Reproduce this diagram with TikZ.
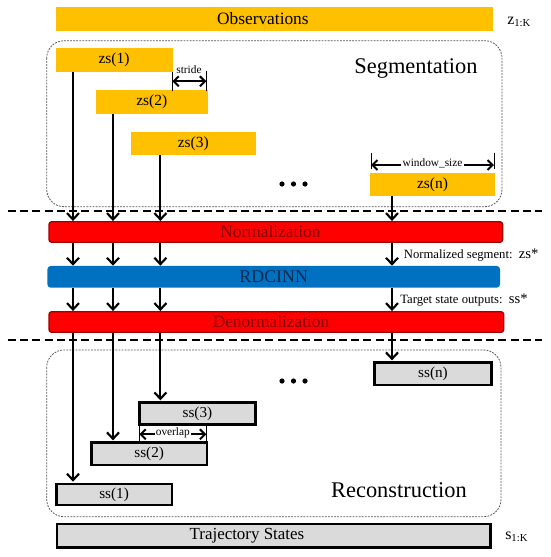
\documentclass[tikz,border=0pt]{standalone}
\usepackage{fontspec}
\setmainfont{Liberation Serif}
\usetikzlibrary{arrows.meta}
\definecolor{gold}{HTML}{FFC000}
\definecolor{redbar}{HTML}{FF0000}
\definecolor{redline}{HTML}{A00000}
\definecolor{redtext}{HTML}{840000}
\definecolor{bluebar}{HTML}{0070C0}
\definecolor{bluetext}{HTML}{0E2A50}
\definecolor{greybox}{HTML}{DADADA}
\definecolor{frame}{HTML}{555555}
\begin{document}
\begin{tikzpicture}[x=0.75pt,y=-0.75pt,
  goldbox/.style={inner sep=0pt, fill=gold, font=\fontsize{11.6}{12}\selectfont},
  redbox/.style={inner sep=0pt, fill=redbar, draw=redline, line width=1pt, rounded corners=2pt,
    text=redtext, font=\fontsize{13}{14}\selectfont},
  bluebox/.style={inner sep=0pt, fill=bluebar, rounded corners=2.5pt,
    text=bluetext, font=\fontsize{13.4}{14}\selectfont},
  greyfill/.style={inner sep=0pt, fill=greybox, draw=black, line width=2pt,
    font=\fontsize{11.4}{12}\selectfont},
  sz/.style 2 args={minimum width=#1pt, minimum height=#2pt},
  groupbox/.style={draw=frame, line width=0.6pt, dash pattern=on 1.4pt off 0.9pt, rounded corners=13pt},
  arr/.style={line width=1.6pt, -{Straight Barb[length=4.8pt,width=9pt,line width=1.6pt]}},
  dimarr/.style={line width=1.5pt, {Straight Barb[length=3.8pt,width=7.5pt,line width=1.5pt]}-{Straight Barb[length=3.8pt,width=7.5pt,line width=1.5pt]}},
  tick/.style={line width=0.6pt},
  sep/.style={line width=1.5pt, dash pattern=on 6pt off 3.2pt},
  small/.style={font=\fontsize{8.5}{9}\selectfont},
  side/.style={font=\fontsize{9.5}{10}\selectfont, anchor=west, inner sep=0pt},
  title/.style={font=\fontsize{16.8}{18}\selectfont},
  dotc/.style={fill=black}
]
\useasboundingbox (0,0) rectangle (550,557);

% group frames
\draw[groupbox] (46.7,40.7) rectangle (502,206.7);
\draw[groupbox] (46.7,350) rectangle (501,516.7);

% observations
\node[goldbox, font=\fontsize{13}{14}\selectfont, sz={328.1}{17.55}] (obs) at (274.25,19) {\hspace*{-17pt}Observations};
\node[anchor=west, inner sep=0pt, font=\fontsize{12}{13}\selectfont] (zlab) at (507,22) {z\textsubscript{1:K}};

% segments
\node[goldbox, sz={87.8}{17.55}] (zs1) at (114.05,60) {zs(1)};
\node[goldbox, sz={84}{18}] (zs2) at (151.8,102) {zs(2)};
\node[goldbox, sz={94.05}{17.25}] (zs3) at (193.3,143.5) {zs(3)};
\node[goldbox, sz={93.75}{17}] (zsn) at (432.5,184.35) {zs(n)};
\node[title] (segt) at (416,68.3) {Segmentation};

% stride
\coordinate (st1a) at (172.3,71.7); \coordinate (st1b) at (172.3,91);
\coordinate (st2a) at (206.4,71);   \coordinate (st2b) at (206.4,91);
\draw[tick] (st1a) -- (st1b);
\draw[tick] (st2a) -- (st2b);
\coordinate (st1) at (172.3,81.3); \coordinate (st2) at (206.4,81.3);
\draw[dimarr] (st1) -- (st2);
\node[small, inner sep=0pt] (stridet) at (189,69.5) {stride};

% window size
\coordinate (w1a) at (371,152.7); \coordinate (w1b) at (371,169.3);
\coordinate (w2a) at (494,152.7); \coordinate (w2b) at (494,169.3);
\draw[tick] (w1a) -- (w1b);
\draw[tick] (w2a) -- (w2b);
\coordinate (w1) at (371,165); \coordinate (w2) at (494,165);
\draw[dimarr] (w1) -- node[small, fill=white, inner sep=1.2pt, yshift=1.2pt] (wst) {window\_size} (w2);

% dots
\fill[dotc] (282,184) circle (2.6);
\fill[dotc] (293.5,184) circle (2.6);
\fill[dotc] (305,184) circle (2.6);

% separators
\coordinate (s1l) at (7.7,211); \coordinate (s1r) at (542,211);
\draw[sep] (s1l) -- (s1r);
\coordinate (s2l) at (7.7,340); \coordinate (s2r) at (542,340);
\draw[sep] (s2l) -- (s2r);

% processing bars
\node[redbox, sz={340.2}{15.45}] (norm) at (275.8,232) {\hspace*{-8pt}Normalization};
\node[bluebox, sz={339.45}{16.3}] (rdc) at (273.7,276.85) {RDCINN};
\node[redbox, sz={341}{15.45}] (denorm) at (276.35,322) {\hspace*{-8pt}Denormalization};

\node[side] (nlab) at (403.6,255) {Normalized segment:~~{\fontsize{11}{11}\selectfont zs*}};
\node[side] (tlab) at (400,300) {Target state outputs:~~{\fontsize{11}{11}\selectfont ss*}};

% reconstruction
\node[greyfill, sz={87.7}{16.7}] (ssn) at (432.95,373.85) {ss(n)};
\node[greyfill, sz={87.15}{16.2}] (ss3) at (197.4,413.5) {ss(3)};
\node[greyfill, sz={86.8}{16.7}] (ss2) at (149.15,453.85) {ss(2)};
\node[greyfill, sz={86.85}{15.75}] (ss1) at (114.1,494.5) {ss(1)};
\node[title] (rect) at (399,490) {Reconstruction};

\fill[dotc] (282,381) circle (2.6);
\fill[dotc] (293.5,381) circle (2.6);
\fill[dotc] (305,381) circle (2.6);

% overlap
\coordinate (o1a) at (139.3,425); \coordinate (o1b) at (139.3,441.7);
\coordinate (o2a) at (206.4,424); \coordinate (o2b) at (206.4,441.7);
\draw[tick] (o1a) -- (o1b);
\draw[tick] (o2a) -- (o2b);
\coordinate (o1) at (139.3,434.3); \coordinate (o2) at (206.4,434.3);
\draw[dimarr] (o1) -- node[small, fill=white, inner sep=1pt, yshift=0.8pt] (ovt) {overlap} (o2);

\node[greyfill, font=\fontsize{12.7}{13}\selectfont, sz={325}{17.5}] (traj) at (273.6,535.65) {\hspace*{-40pt}Trajectory States};
\node[anchor=west, inner sep=0pt, font=\fontsize{12}{13}\selectfont] (slab) at (505,537) {s\textsubscript{1:K}};

% arrow columns
\coordinate (a1) at (73,0);
\coordinate (a2) at (113,0);
\coordinate (a3) at (160.4,0);
\coordinate (a4) at (392,0);

\draw[arr] (zs1.south -| a1) -- (norm.north -| a1);
\draw[arr] (zs2.south -| a2) -- (norm.north -| a2);
\draw[arr] (zs3.south -| a3) -- (norm.north -| a3);
\draw[arr] (zsn.south -| a4) -- (norm.north -| a4);

\draw[arr] (norm.south -| a1) -- (rdc.north -| a1);
\draw[arr] (norm.south -| a2) -- (rdc.north -| a2);
\draw[arr] (norm.south -| a3) -- (rdc.north -| a3);
\draw[arr] (norm.south -| a4) -- (rdc.north -| a4);

\draw[arr] (rdc.south -| a1) -- (denorm.north -| a1);
\draw[arr] (rdc.south -| a2) -- (denorm.north -| a2);
\draw[arr] (rdc.south -| a3) -- (denorm.north -| a3);
\draw[arr] (rdc.south -| a4) -- (denorm.north -| a4);

\draw[arr] (denorm.south -| a1) -- ([yshift=0.75pt]ss1.north -| a1);
\draw[arr] (denorm.south -| a2) -- ([yshift=0.75pt]ss2.north -| a2);
\draw[arr] (denorm.south -| a3) -- ([yshift=0.75pt]ss3.north -| a3);
\draw[arr] (denorm.south -| a4) -- ([yshift=0.75pt]ssn.north -| a4);
\end{tikzpicture}
\end{document}
